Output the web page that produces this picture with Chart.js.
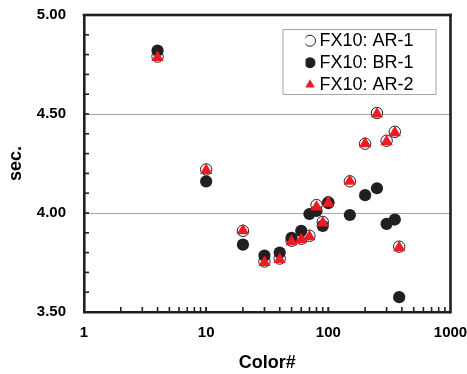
<!DOCTYPE html>
<html>
<head>
<meta charset="utf-8">
<script src="https://cdn.jsdelivr.net/npm/chart.js@4/dist/chart.umd.min.js"></script>
<style>
  html, body { margin: 0; padding: 0; background: #fff; }
  #wrap { width: 467px; height: 374px; position: relative; }
</style>
</head>
<body>
<div id="wrap"><canvas id="c" width="467" height="374"></canvas></div>
<script>
// ---- data ----
const colorNums = [4, 10, 20, 30, 40, 50, 60, 70, 80, 90, 100, 150, 200, 250, 300, 350, 380];
const ar1 = [4.79, 4.22, 3.91, 3.755, 3.77, 3.86, 3.87, 3.885, 4.04, 3.955, 4.055, 4.16, 4.35, 4.505, 4.365, 4.41, 3.83];
const br1 = [4.82, 4.16, 3.84, 3.785, 3.80, 3.875, 3.91, 3.995, 4.01, 3.935, 4.05, 3.99, 4.09, 4.125, 3.945, 3.967, 3.575];
const ar2 = [4.785, 4.215, 3.91, 3.75, 3.765, 3.855, 3.865, 3.88, 4.03, 3.95, 4.05, 4.16, 4.35, 4.50, 4.36, 4.405, 3.825];
const seriesNames = ['FX10: AR-1', 'FX10: BR-1', 'FX10: AR-2'];
const xLabelValues = [1, 10, 100, 1000];
const yTickValues = [3.5, 4.0, 4.5, 5.0];
const gridValues = [4.0, 4.5];

const FONT = "'Liberation Sans', Arial, sans-serif";
const INK = '#231f20';

const toPts = arr => colorNums.map((x, i) => ({ x: x, y: arr[i] }));

const framePlugin = {
  id: 'frame',
  beforeDraw(chart) {
    const lg = chart.legend;
    if (lg) {
      const w = lg.width, h = lg.height;
      const ca = chart.chartArea;
      lg.left = ca.right - 145; lg.top = ca.top + 12.7;
      lg.right = lg.left + w; lg.bottom = lg.top + h;
    }
  },
  afterDraw(chart) {
    const ctx = chart.ctx;
    const ca = chart.chartArea;
    const xs = chart.scales.x, ys = chart.scales.y;
    ctx.save();
    // legend border
    ctx.strokeStyle = '#a6a6a6';
    ctx.lineWidth = 1;
    ctx.strokeRect(ca.right - 167.5, ca.top + 14.5, 153, 65);
    ctx.fillStyle = INK;
    // minor ticks (y, inside left)
    for (let k = 36; k <= 49; k++) {
      const py = ys.getPixelForValue(k / 10);
      ctx.fillRect(ca.left, py - 0.8, 5, 1.6);
    }
    // minor ticks (x, inside bottom)
    for (let dec = 1; dec <= 100; dec *= 10) {
      for (let m = 1; m <= 10; m++) {
        const v = dec * m;
        if (v <= 1 || v >= 1000) continue;
        const px = xs.getPixelForValue(v);
        ctx.fillRect(px - 0.8, ca.bottom - 5, 1.6, 5);
      }
    }
    // frame top / right
    const t = 2.6;
    ctx.fillRect(ca.left - t / 2, ca.top - t / 2, ca.right - ca.left + t, t);
    ctx.fillRect(ca.right - t / 2, ca.top - t / 2, t, ca.bottom - ca.top + t);
    ctx.restore();
  }
};

const zeroPad = s => { s.paddingTop = 0; s.paddingBottom = 0; s.paddingLeft = 0; s.paddingRight = 0; };

new Chart(document.getElementById('c'), {
  type: 'scatter',
  data: {
    datasets: [
      { label: seriesNames[0], data: toPts(ar1), order: 3, pointStyle: 'circle', pointRadius: 5.7,
        backgroundColor: '#ffffff', borderColor: INK, borderWidth: 1 },
      { label: seriesNames[1], data: toPts(br1), order: 2, pointStyle: 'circle', pointRadius: 6.1,
        backgroundColor: INK, borderColor: INK, borderWidth: 0 },
      { label: seriesNames[2], data: toPts(ar2), order: 1, pointStyle: 'triangle', pointRadius: 7.1,
        backgroundColor: '#ed1c24', borderColor: '#ed1c24', borderWidth: 0 }
    ]
  },
  options: {
    responsive: false,
    animation: false,
    events: [],
    layout: { autoPadding: false, padding: { top: 15, right: 16.5, bottom: 0, left: 0 } },
    plugins: {
      tooltip: { enabled: false },
      legend: {
        position: 'chartArea',
        align: 'start',
        labels: {
          usePointStyle: true,
          boxWidth: 1,
          boxHeight: 7.8,
          padding: 4,
          color: '#000',
          font: { family: FONT, size: 18, weight: 'normal' },
          sort: (a, b) => a.datasetIndex - b.datasetIndex
        }
      }
    },
    scales: {
      x: {
        type: 'logarithmic',
        min: 1, max: 1000,
        afterFit: s => { s.height = 62; zeroPad(s); },
        grid: { display: false, drawTicks: false },
        border: { display: true, width: 2.6, color: INK },
        ticks: {
          autoSkip: false, maxRotation: 0, padding: 12, color: '#000',
          font: { family: FONT, size: 15, weight: 'bold' },
          callback: v => xLabelValues.includes(v) ? String(v) : ''
        },
        title: { display: true, text: 'Color#', color: '#000', padding: { top: 0, bottom: 0 },
          font: { family: FONT, size: 18, weight: 'bold' } }
      },
      y: {
        min: 3.5, max: 5.0,
        afterFit: s => { s.width = 84; zeroPad(s); },
        afterBuildTicks: s => { s.ticks = yTickValues.map(v => ({ value: v })); },
        grid: {
          drawTicks: false,
          color: c => (c.tick && gridValues.includes(c.tick.value)) ? '#a6a6a6' : 'rgba(0,0,0,0)',
          lineWidth: 1
        },
        border: { display: true, width: 2.6, color: INK },
        ticks: {
          padding: 18, color: '#000',
          font: { family: FONT, size: 15, weight: 'bold' },
          callback: v => Number(v).toFixed(2)
        },
        title: { display: true, text: 'sec.', color: '#000', padding: { top: 5, bottom: 0 },
          font: { family: FONT, size: 18, weight: 'bold' } }
      }
    }
  },
  plugins: [framePlugin]
});
</script>
</body>
</html>
